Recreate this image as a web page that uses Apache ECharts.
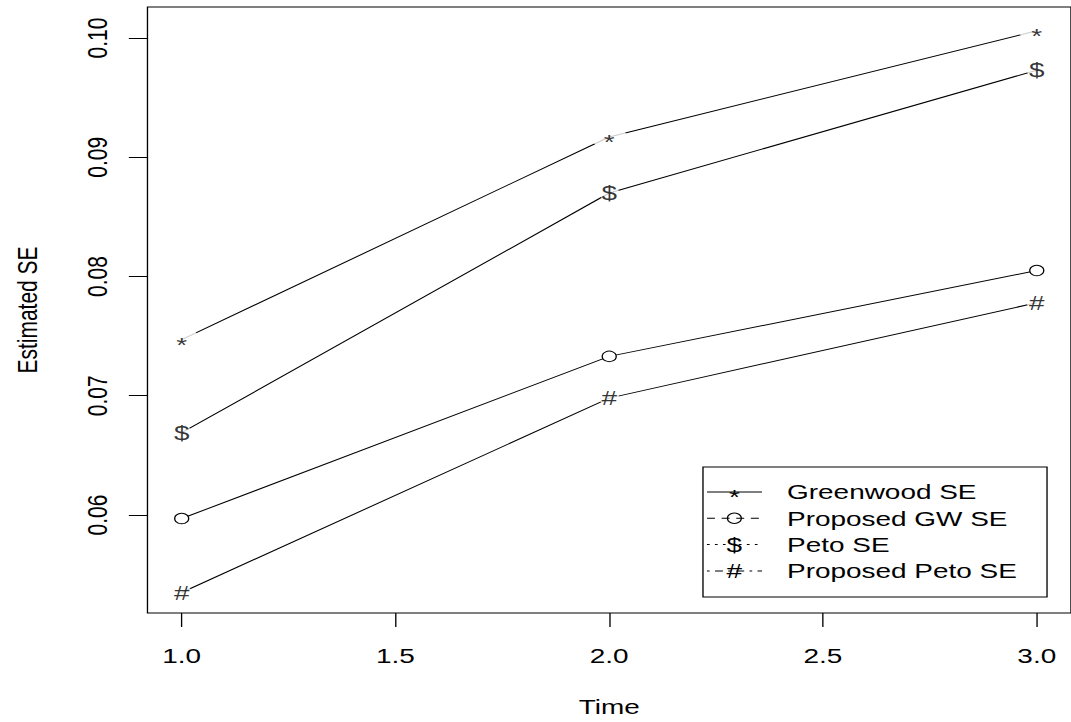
<!DOCTYPE html>
<html>
<head>
<meta charset="utf-8">
<script src="https://cdn.jsdelivr.net/npm/echarts@6/dist/echarts.min.js"></script>
<style>
html, body { margin: 0; padding: 0; background: #fff; overflow: hidden; }
/* the reference plot is stretched sideways, so draw narrow and widen */
#chart { width: 805px; height: 722px; transform: scaleX(1.3304); transform-origin: 0 0; }
</style>
</head>
<body>
<div id="chart"></div>
<script>
var times = [1, 2, 3];
var seriesNames = ['Greenwood SE', 'Proposed GW SE', 'Peto SE', 'Proposed Peto SE'];
var greenwood = [0.0747, 0.0917, 0.1006];
var proposedGW = [0.0597, 0.0733, 0.0805];
var peto = [0.0669, 0.0870, 0.0973];
var proposedPeto = [0.0535, 0.0698, 0.0778];
var xTicks = [1.0, 1.5, 2.0, 2.5, 3.0];
var yTicks = [0.06, 0.07, 0.08, 0.09, 0.10];

var FONT = '"Liberation Sans", Arial, sans-serif';
var allValues = [greenwood, proposedGW, peto, proposedPeto];
var pch = ['*', 'o', '$', '#'];
var gapSize = [26, 10.5, 15, 15];
var dash = ['solid', [6, 5], [2, 4], [2, 4, 6, 4]];

var dom = document.getElementById('chart');
var myChart = echarts.init(dom, null, { renderer: 'svg' });

function pairs(vals) {
    return times.map(function (t, i) { return [t, vals[i]]; });
}

var series = [];
allValues.forEach(function (vals, k) {
    series.push({
        name: seriesNames[k],
        type: 'line',
        data: pairs(vals),
        showSymbol: false,
        z: 2,
        lineStyle: { color: '#000', width: 1 }
    });
});
allValues.forEach(function (vals, k) {
    var isCircle = pch[k] === 'o';
    series.push({
        name: seriesNames[k] + ' pts',
        type: 'scatter',
        data: pairs(vals),
        z: 3,
        symbol: 'circle',
        symbolSize: gapSize[k],
        itemStyle: isCircle ? { color: '#fff', borderColor: '#000', borderWidth: 1, opacity: 1 } : { color: '#fff' },
        label: {
            show: !isCircle,
            position: 'inside',
            formatter: pch[k],
            color: '#000',
            fontSize: 21,
            fontFamily: FONT,
            offset: pch[k] === '*' ? [0, 5] : [0, 0]
        }
    });
});

// legend box, drawn by hand to get R's line types and characters
var legendChildren = [{
    type: 'rect',
    shape: { x: 528.4, y: 467, width: 258.6, height: 130 },
    style: { fill: '#fff', stroke: '#000', lineWidth: 1 }
}];
seriesNames.forEach(function (name, k) {
    var y = 492 + k * 26.3;
    legendChildren.push({
        type: 'line',
        shape: { x1: 531.4, y1: y, x2: 572.8, y2: y },
        style: { stroke: '#000', lineWidth: 1, lineDash: dash[k] }
    });
    if (pch[k] === 'o') {
        legendChildren.push({
            type: 'circle',
            shape: { cx: 552, cy: y, r: 5.2 },
            style: { fill: 'none', stroke: '#000', lineWidth: 1 }
        });
    } else {
        legendChildren.push({
            type: 'text',
            x: 552, y: y + (pch[k] === '*' ? 5 : 0),
            style: { text: pch[k], fill: '#000', font: '21px ' + FONT, align: 'center', verticalAlign: 'middle' }
        });
    }
    legendChildren.push({
        type: 'text',
        x: 591.6, y: y,
        style: { text: name, fill: '#000', font: '21px ' + FONT, align: 'left', verticalAlign: 'middle' }
    });
});

var option = {
    animation: false,
    backgroundColor: '#fff',
    textStyle: { fontFamily: FONT, color: '#000' },
    grid: {
        left: 110.85, top: 7, width: 700.6, height: 606,
        show: true, borderColor: '#000', borderWidth: 1, backgroundColor: 'transparent'
    },
    xAxis: {
        type: 'value',
        min: 0.92, max: 3.08,
        name: 'Time',
        nameLocation: 'middle',
        nameGap: 83,
        nameTextStyle: { fontSize: 21, color: '#000', fontFamily: FONT },
        axisLine: { show: false },
        splitLine: { show: false },
        axisTick: { show: true, length: 14, inside: false, customValues: xTicks, lineStyle: { color: '#000', width: 1 } },
        axisLabel: {
            customValues: xTicks, margin: 32, fontSize: 21, color: '#000', fontFamily: FONT,
            formatter: function (v) { return v.toFixed(1); }
        }
    },
    yAxis: {
        type: 'value',
        min: 0.05178, max: 0.1026,
        name: 'Estimated SE',
        nameLocation: 'middle',
        nameGap: 80,
        nameTextStyle: { fontSize: 21, color: '#000', fontFamily: FONT },
        axisLine: { show: false },
        splitLine: { show: false },
        axisTick: { show: true, length: 14, inside: false, customValues: yTicks, lineStyle: { color: '#000', width: 1 } },
        axisLabel: {
            customValues: yTicks, rotate: 90, margin: 27, fontSize: 21, color: '#000', fontFamily: FONT,
            formatter: function (v) { return v.toFixed(2); }
        }
    },
    graphic: [{ type: 'group', z: 100, children: legendChildren }],
    series: series
};

if (option && typeof option === 'object') {
    myChart.setOption(option, true);
}
</script>
</body>
</html>
